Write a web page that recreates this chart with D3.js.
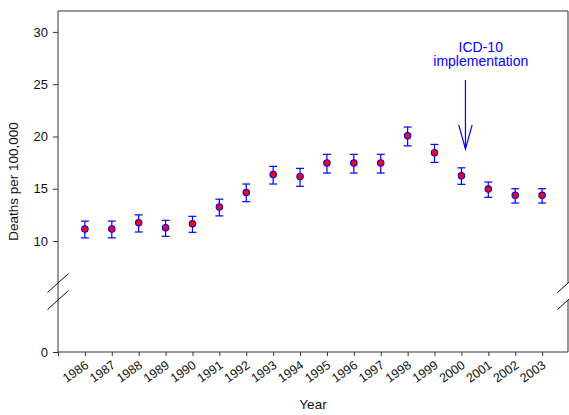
<!DOCTYPE html>
<html>
<head>
<meta charset="utf-8">
<script src="https://cdn.jsdelivr.net/npm/d3@7"></script>
<style>
  body { margin: 0; background: #fff; }
  svg { display: block; font-family: "Liberation Sans", Arial, sans-serif; }
</style>
</head>
<body>
<svg id="chart"></svg>
<script>
// death rates per 100,000 with confidence limits
var years = [1986, 1987, 1988, 1989, 1990, 1991, 1992, 1993, 1994, 1995,
             1996, 1997, 1998, 1999, 2000, 2001, 2002, 2003];
var rates = [11.15, 11.15, 11.75, 11.27, 11.65, 13.25, 14.65, 16.37, 16.17, 17.46,
             17.46, 17.46, 20.07, 18.44, 16.24, 14.97, 14.37, 14.37];
var lower = [10.3, 10.3, 10.86, 10.45, 10.83, 12.4, 13.76, 15.45, 15.23, 16.5,
             16.5, 16.5, 19.1, 17.52, 15.42, 14.18, 13.63, 13.63];
var upper = [11.9, 11.9, 12.5, 11.98, 12.36, 14.0, 15.45, 17.14, 16.95, 18.29,
             18.29, 18.29, 20.9, 19.24, 17.0, 15.64, 15.0, 15.0];
var yTicks = [0, 10, 15, 20, 25, 30];
var xTicks = [1985].concat(years);

// annotation (data units)
var arrowX = 2000.15;
var arrowTop = 25.4, arrowTip = 18.8, arrowHeadBase = 21.1, arrowHeadHalf = 0.25;
var noteX = 2000.72;
var noteLines = [{ text: 'ICD-10', y: 28.1 }, { text: 'implementation', y: 26.72 }];

(function(){
    var width = 569, height = 415;
    var svg = d3.select('svg#chart')
        .attr('width', width)
        .attr('height', height);

    var plotLeft = 58, plotRight = 568, plotTop = 11, plotBottom = 352;

    var x = d3.scaleLinear().domain([1985, 2004]).range([plotLeft, 569]);
    // broken axis: 0 sits on its own below the break
    var y = d3.scaleLinear().domain([0, 10, 32]).range([plotBottom, 241, plotTop]);

    var axisColor = '#333';
    var font = '"Liberation Sans", Arial, sans-serif';

    // y axis
    var yAxis = svg.append('g')
        .attr('transform', 'translate(' + plotLeft + ',0)')
        .call(d3.axisLeft(y).tickValues(yTicks).tickSize(5).tickPadding(5));
    yAxis.select('.domain').remove();
    yAxis.selectAll('line').attr('stroke', axisColor);
    yAxis.selectAll('text')
        .attr('font-size', '13px')
        .attr('fill', '#111')
        .style('font-family', font);

    // x axis
    var xAxis = svg.append('g')
        .attr('transform', 'translate(0,' + plotBottom + ')')
        .call(d3.axisBottom(x).tickValues(xTicks).tickSize(4)
            .tickFormat(function(d){ return d === 1985 ? '' : d; }));
    xAxis.select('.domain').remove();
    xAxis.selectAll('line').attr('stroke', axisColor);
    xAxis.selectAll('text')
        .attr('font-size', '12.5px')
        .attr('fill', '#111')
        .style('font-family', font)
        .attr('text-anchor', 'end')
        .attr('dy', null)
        .attr('y', 0)
        .attr('transform', 'translate(4,15) rotate(-35)');

    // frame with breaks
    var frame = svg.append('g')
        .attr('stroke', axisColor)
        .attr('stroke-width', 1)
        .attr('fill', 'none');
    frame.append('line').attr('x1', plotLeft).attr('x2', plotLeft).attr('y1', plotTop).attr('y2', plotBottom);
    frame.append('line').attr('x1', plotLeft).attr('x2', plotRight).attr('y1', plotTop).attr('y2', plotTop);
    frame.append('line').attr('x1', plotLeft).attr('x2', plotRight).attr('y1', plotBottom).attr('y2', plotBottom);
    frame.append('line').attr('x1', plotRight).attr('x2', plotRight).attr('y1', plotTop).attr('y2', 283);
    frame.append('line').attr('x1', plotRight).attr('x2', plotRight).attr('y1', 300).attr('y2', plotBottom);

    // break slashes
    [plotLeft, plotRight].forEach(function(px){
        [0, 17].forEach(function(off){
            frame.append('line')
                .attr('stroke', '#111')
                .attr('x1', px - 10.5).attr('y1', 292.5 + off)
                .attr('x2', px + 10.5).attr('y2', 273.5 + off);
        });
    });

    // error bars
    var capW = 4;
    var bars = svg.append('g')
        .attr('stroke', '#0000ff')
        .attr('stroke-width', 1.2);
    years.forEach(function(yr, i){
        var cx = x(yr);
        bars.append('line').attr('x1', cx).attr('x2', cx).attr('y1', y(lower[i])).attr('y2', y(upper[i]));
        bars.append('line').attr('x1', cx - capW).attr('x2', cx + capW).attr('y1', y(lower[i])).attr('y2', y(lower[i]));
        bars.append('line').attr('x1', cx - capW).attr('x2', cx + capW).attr('y1', y(upper[i])).attr('y2', y(upper[i]));
    });

    // points
    svg.append('g').selectAll('circle')
        .data(years)
        .join('circle')
        .attr('cx', function(d){ return x(d); })
        .attr('cy', function(d, i){ return y(rates[i]); })
        .attr('r', 3.2)
        .attr('fill', '#ff0000')
        .attr('stroke', '#0000ff')
        .attr('stroke-width', 1.1);

    // annotation
    var note = svg.append('g');
    note.selectAll('text')
        .data(noteLines)
        .join('text')
        .attr('x', x(noteX))
        .attr('y', function(d){ return y(d.y); })
        .attr('text-anchor', 'middle')
        .attr('font-size', '14px')
        .attr('fill', '#0000ff')
        .text(function(d){ return d.text; });

    var arrow = note.append('g')
        .attr('stroke', '#0000ff')
        .attr('stroke-width', 1.2)
        .attr('fill', 'none');
    arrow.append('line')
        .attr('x1', x(arrowX)).attr('x2', x(arrowX))
        .attr('y1', y(arrowTop)).attr('y2', y(arrowTip));
    arrow.append('path')
        .attr('d', 'M' + x(arrowX - arrowHeadHalf) + ',' + y(arrowHeadBase) +
                   'L' + x(arrowX) + ',' + y(arrowTip) +
                   'L' + x(arrowX + arrowHeadHalf) + ',' + y(arrowHeadBase));

    // axis titles
    svg.append('text')
        .attr('x', (plotLeft + plotRight) / 2)
        .attr('y', 409)
        .attr('text-anchor', 'middle')
        .attr('font-size', '13.5px')
        .attr('fill', '#111')
        .text('Year');

    svg.append('text')
        .attr('transform', 'translate(18,' + (plotTop + plotBottom) / 2 + ') rotate(-90)')
        .attr('text-anchor', 'middle')
        .attr('font-size', '13.5px')
        .attr('fill', '#111')
        .text('Deaths per 100,000');
})();
</script>
</body>
</html>
